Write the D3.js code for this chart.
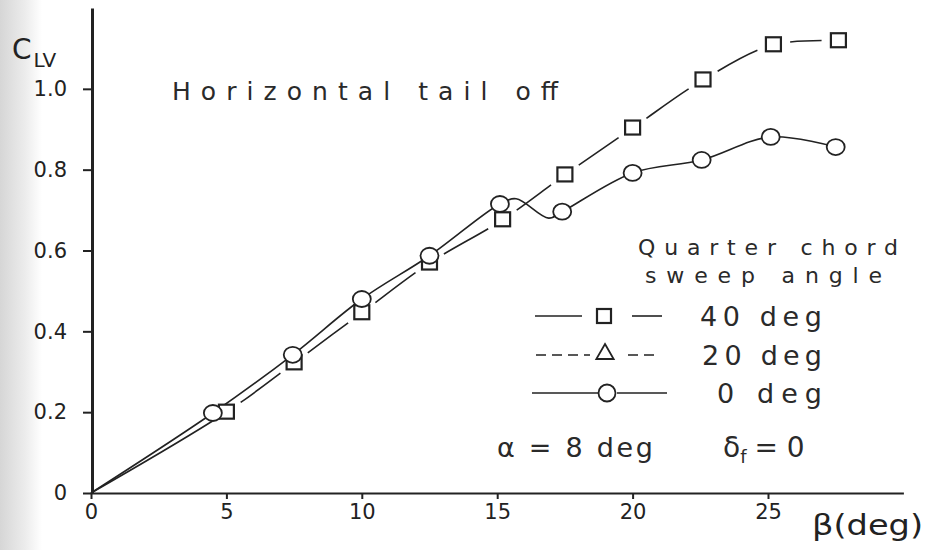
<!DOCTYPE html>
<html>
<head>
<meta charset="utf-8">
<script src="https://cdn.jsdelivr.net/npm/d3@7"></script>
<style>
  html, body { margin: 0; padding: 0; background: #fff; }
  svg { display: block; font-family: "DejaVu Sans", sans-serif; }
</style>
</head>
<body>
<svg id="chart" width="932" height="550"></svg>
<script>
const betaTicks = [0, 5, 10, 15, 20, 25];
const clvTicks = [0, 0.2, 0.4, 0.6, 0.8, 1.0];

// 40 deg sweep, squares
const beta40 = [5, 7.5, 10, 12.5, 15.2, 17.5, 20, 22.6, 25.2, 27.6];
const clv40 = [0.20, 0.322, 0.446, 0.569, 0.676, 0.787, 0.903, 1.022, 1.109, 1.119];

// 0 deg sweep, circles
const beta0 = [4.5, 7.45, 10, 12.5, 15.1, 17.4, 20, 22.55, 25.1, 27.5];
const clv0 = [0.198, 0.342, 0.48, 0.587, 0.715, 0.696, 0.792, 0.824, 0.881, 0.856];

// extra knots of the faired 0 deg curve (the kink past 15 deg)
const kinkBeta = [15.7, 16.9];
const kinkClv = [0.728, 0.68];

const legendLabels = ["40 deg", "20 deg", "0 deg"];

const ink = "#222";
const svg = d3.select("#chart");

const x = d3.scaleLinear().domain([0, 30]).range([91, 903.4]);
const y = d3.scaleLinear().domain([0, 1.2]).range([493, 8]);

// scanned page edge
const edge = svg.append("defs").append("linearGradient").attr("id", "edge");
edge.append("stop").attr("offset", "0%").attr("stop-color", "#d6d6d6");
edge.append("stop").attr("offset", "60%").attr("stop-color", "#ececec");
edge.append("stop").attr("offset", "100%").attr("stop-color", "#fff");
svg.append("rect").attr("x", 0).attr("y", 0).attr("width", 42).attr("height", 550).attr("fill", "url(#edge)");

// axes
const yAxis = svg.append("g")
  .attr("transform", `translate(${x(0) + 1},0)`)
  .call(d3.axisLeft(y).tickValues(clvTicks).tickSize(9).tickSizeOuter(0).tickPadding(16)
    .tickFormat(d => d === 0 ? "0" : d3.format(".1f")(d)));
yAxis.select(".domain").attr("stroke", ink).attr("stroke-width", 3);
yAxis.selectAll(".tick line").attr("stroke", ink).attr("stroke-width", 2);
yAxis.selectAll(".tick text").attr("fill", ink).attr("font-size", 21).attr("font-family", "DejaVu Sans");

const xAxis = svg.append("g")
  .attr("transform", `translate(0,${y(0)})`)
  .call(d3.axisBottom(x).tickValues(betaTicks).tickSize(6).tickSizeOuter(0).tickPadding(5));
xAxis.select(".domain").attr("stroke", ink).attr("stroke-width", 2);
xAxis.selectAll(".tick line").attr("stroke", ink).attr("stroke-width", 2);
xAxis.selectAll(".tick text").attr("fill", ink).attr("font-size", 21).attr("font-family", "DejaVu Sans");

// axis titles
const yTitle = svg.append("text").attr("x", 12).attr("y", 59).attr("fill", ink);
yTitle.append("tspan").attr("font-size", 28).text("C");
yTitle.append("tspan").attr("font-size", 20).attr("dy", 8).attr("dx", 2).text("LV");

svg.append("text").attr("x", 812).attr("y", 535).attr("font-size", 28).attr("fill", ink)
  .attr("textLength", 111).attr("lengthAdjust", "spacingAndGlyphs").text("β(deg)");

// curves
const pts40 = [{b: 0, c: 0}].concat(beta40.map((b, i) => ({b, c: clv40[i]})));
const pts0 = [{b: 0, c: 0}]
  .concat(beta0.map((b, i) => ({b, c: clv0[i]})))
  .concat(kinkBeta.map((b, i) => ({b, c: kinkClv[i]})))
  .sort((a, b) => a.b - b.b);

const line = d3.line()
  .x(d => x(d.b))
  .y(d => y(d.c))
  .curve(d3.curveCatmullRom.alpha(0.5));

svg.append("path")
  .datum(pts0)
  .attr("d", line)
  .attr("fill", "none")
  .attr("stroke", ink)
  .attr("stroke-width", 1.6);

const path40 = svg.append("path")
  .datum(pts40)
  .attr("d", line)
  .attr("fill", "none")
  .attr("stroke", ink)
  .attr("stroke-width", 1.6);

// break the 40 deg curve around each marker
const node40 = path40.node();
const total40 = node40.getTotalLength();
const lengthAtX = px => {
  let lo = 0, hi = total40;
  for (let k = 0; k < 40; k++) {
    const mid = (lo + hi) / 2;
    if (node40.getPointAtLength(mid).x < px) lo = mid; else hi = mid;
  }
  return (lo + hi) / 2;
};
const gap = 17;
const dashes = [];
let start = 0;
beta40.forEach(b => {
  const L = lengthAtX(x(b));
  dashes.push(Math.max(0, L - gap - start), 2 * gap);
  start = L + gap;
});
dashes.push(0, total40);
path40.attr("stroke-dasharray", dashes.join(","));

// markers
svg.append("g").selectAll("rect")
  .data(beta40)
  .join("rect")
  .attr("x", d => x(d) - 7.5)
  .attr("y", (d, i) => y(clv40[i]) - 7.5)
  .attr("width", 15)
  .attr("height", 14)
  .attr("fill", "#fff")
  .attr("stroke", ink)
  .attr("stroke-width", 2.2);

svg.append("g").selectAll("ellipse")
  .data(beta0)
  .join("ellipse")
  .attr("cx", d => x(d))
  .attr("cy", (d, i) => y(clv0[i]))
  .attr("rx", 9)
  .attr("ry", 8)
  .attr("fill", "#fff")
  .attr("stroke", ink)
  .attr("stroke-width", 1.8);

// annotations
const note = (tx, ty, size, len, str) => svg.append("text")
  .attr("x", tx).attr("y", ty)
  .attr("font-size", size)
  .attr("fill", "#2a2a2a")
  .attr("textLength", len)
  .attr("lengthAdjust", "spacing")
  .text(str);

note(172, 100, 25, 386, "Horizontal tail off");
note(638, 255, 22, 260, "Quarter chord");
note(645, 283, 22, 237, "sweep angle");

// legend
const rows = [316, 355, 393];
const labelX = [700, 702, 717];
const seg = d3.line();

const legend = svg.append("g");
legend.append("path").attr("d", seg([[535, rows[0]], [582, rows[0]]]));
legend.append("path").attr("d", seg([[632, rows[0]], [662, rows[0]]]));
legend.append("path").attr("d", seg([[536, rows[1]], [590, rows[1]]])).attr("stroke-dasharray", "10,6");
legend.append("path").attr("d", seg([[628, rows[1]], [660, rows[1]]])).attr("stroke-dasharray", "10,6");
legend.append("path").attr("d", seg([[532, rows[2]], [598, rows[2]]]));
legend.append("path").attr("d", seg([[617, rows[2]], [667, rows[2]]]));
legend.selectAll("path").attr("fill", "none").attr("stroke", ink).attr("stroke-width", 1.6);

legend.append("rect")
  .attr("x", 597).attr("y", rows[0] - 7).attr("width", 14).attr("height", 14)
  .attr("fill", "#fff").attr("stroke", ink).attr("stroke-width", 2.2);
legend.append("path")
  .attr("d", d3.symbol(d3.symbolTriangle, 130)())
  .attr("transform", `translate(605,${rows[1] - 1})`)
  .attr("fill", "#fff").attr("stroke", ink).attr("stroke-width", 1.8);
legend.append("ellipse")
  .attr("cx", 607).attr("cy", rows[2]).attr("rx", 8.5).attr("ry", 8.5)
  .attr("fill", "#fff").attr("stroke", ink).attr("stroke-width", 1.8);

legendLabels.forEach((t, i) => {
  note(labelX[i], rows[i] + 10, 27, 822 - labelX[i], t);
});

note(497, 457, 27, 156, "α = 8 deg");
const delta = svg.append("text").attr("x", 723).attr("y", 457).attr("font-size", 28).attr("fill", "#2a2a2a");
delta.append("tspan").text("δ");
delta.append("tspan").attr("font-size", 18).attr("dy", 6).text("f");
delta.append("tspan").attr("dy", -6).attr("dx", 8).text("= 0");
</script>
</body>
</html>
